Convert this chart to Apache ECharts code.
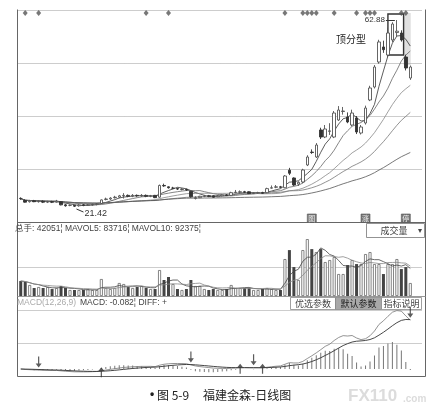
<!DOCTYPE html>
<html><head><meta charset="utf-8">
<script src="https://cdn.jsdelivr.net/npm/echarts@6/dist/echarts.min.js"></script>
<style>html,body{margin:0;padding:0;background:#fff}#c{width:436px;height:407px}</style>
</head><body><div id="c"></div>
<script>
// ---- data ----
const dayCount = 90; // category slots (88 trading days + 2 empty)
// [open, close, low, high]
const candles = [
[23.35,23.30,23.00,23.55],[22.90,22.50,22.40,23.10],[22.60,22.80,22.40,23.00],[22.80,22.60,22.50,23.00],
[22.60,22.70,22.40,22.90],[22.70,22.50,22.30,22.90],[22.50,22.60,22.30,22.80],[22.60,22.50,22.30,22.80],
[22.50,22.70,22.40,23.00],[22.60,21.90,21.80,22.70],[21.90,21.70,21.50,22.10],[21.80,21.80,21.60,22.00],
[21.80,21.60,21.42,21.90],[21.70,21.90,21.50,22.10],[21.90,21.80,21.60,22.10],[21.80,21.90,21.70,22.10],
[21.90,22.00,21.70,22.20],[22.00,22.10,21.80,22.30],[22.20,23.00,22.10,23.10],[23.10,23.20,22.90,23.50],
[23.20,23.40,23.00,23.60],[23.50,23.60,23.30,23.90],[23.60,23.90,23.40,24.10],[23.90,24.00,23.30,24.50],
[24.00,23.80,23.60,24.20],[23.80,24.00,23.60,24.30],[24.00,23.90,23.70,24.20],[23.90,24.00,23.70,24.30],
[24.00,23.80,23.60,24.20],[23.80,23.90,23.60,24.10],[24.00,23.50,23.40,24.10],[23.60,26.20,23.50,26.40],
[26.20,26.10,25.90,26.60],[25.90,25.70,25.50,26.00],[25.60,25.60,25.40,25.90],[25.50,25.40,25.20,25.70],
[25.30,25.40,25.10,25.60],[25.30,25.20,25.00,25.50],[24.90,23.70,23.50,25.00],[23.30,23.50,23.10,23.80],
[23.50,23.80,23.40,23.90],[23.80,23.90,23.60,24.10],[23.90,23.80,23.60,24.10],[23.90,23.60,23.50,24.00],
[23.70,23.90,23.60,24.10],[23.90,24.10,23.80,24.20],[24.10,24.00,23.90,24.30],[24.00,24.60,23.90,24.80],
[24.60,24.70,24.50,25.20],[24.70,24.80,24.50,25.10],[24.80,24.70,24.50,25.00],[24.80,24.40,24.30,24.90],
[24.40,24.50,24.30,24.70],[24.50,24.60,24.40,24.80],[24.60,24.50,24.40,24.80],[24.60,25.50,24.50,25.70],
[25.60,25.70,25.50,26.20],[25.80,25.90,25.60,26.30],[25.90,25.80,25.60,26.10],[25.70,28.30,25.60,28.50],
[29.60,28.90,28.50,30.10],[27.86,26.30,26.10,28.00],[26.50,26.90,26.10,27.10],[26.97,29.63,26.70,29.90],
[30.74,32.51,30.50,32.90],[33.60,33.50,33.20,34.20],[32.51,35.17,32.30,35.60],[38.50,36.94,36.50,39.00],
[36.94,38.72,36.70,39.60],[38.20,38.30,37.40,40.00],[36.94,42.26,36.70,42.70],[40.71,42.93,40.50,43.80],
[42.60,42.70,41.90,43.60],[41.38,40.27,40.00,42.40],[39.60,42.26,39.30,43.00],[41.16,38.05,37.60,41.60],
[37.83,39.16,37.50,39.60],[40.05,43.37,39.70,43.90],[45.15,47.81,44.90,48.30],[48.03,52.46,47.70,52.90],
[53.57,58.01,53.20,58.50],[56.90,56.30,55.60,58.30],[55.12,60.00,54.60,61.20],[58.45,61.99,58.00,62.40],
[60.10,60.40,59.30,62.88],[60.00,58.45,58.10,60.60],[54.68,52.24,51.70,55.20],[50.02,52.46,49.60,52.80]
];
const volumes = [
48500,45300,35600,25900,29100,25900,29100,22600,25900,32400,25900,19400,19400,19400,19400,22600,
19400,19400,55000,25900,22600,25900,42100,38800,29100,25900,29100,32400,25900,22600,22600,84100,
51800,61500,38800,22600,19400,22600,51800,32400,32400,22600,19400,22600,19400,19400,22600,35600,
25900,25900,25900,25900,19400,19400,22600,25900,22600,19400,19400,119700,148800,93800,51800,148800,
184400,152000,142300,152000,110000,116500,126200,71200,71200,100300,116500,103500,103500,135900,142300,103500,
103500,71200,103500,103500,119700,87300,93800,42051
];
const maPeriods = [5, 10, 20, 30, 60];
const volMaPeriods = [5, 10];
const signalDays = [1, 4, 28, 33, 59, 63, 64, 65, 66, 70, 75, 77, 78, 79, 85, 86];
const sellArrowDays = [4, 38, 52, 87];
const buyArrowDays = [18, 49, 54];
const highLabel = '62.88';
const lowLabel = '21.42';
const highDay = 84, lowDay = 12;
const patternDays = [83, 85];
const patternName = '顶分型';
const volHeader = '总手: 42051¦ MAVOL5: 83716¦ MAVOL10: 92375¦';
const macdHeaderA = 'MACD(12,26,9)';
const macdHeaderB = 'MACD: -0.082¦ DIFF: +';
const buttons = ['优选参数', '默认参数', '指标说明'];
const eventTags = [[65, '图'], [77, '涨'], [86, '停']];
const captionParts = ['•', '图 5-9', '福建金森-日线图'];

// ---- derived ----
const cats = Array.from({length: dayCount}, (_, i) => String(i + 1));
const closes = candles.map(c => c[1]);
function movAvg(arr, n) {
  return arr.map((_, i) => { const s = Math.max(0, i - n + 1); let t = 0; for (let k = s; k <= i; k++) t += arr[k]; return +(t / (i - s + 1)).toFixed(3); });
}
function ema(arr, n) { const a = 2 / (n + 1); const out = []; arr.forEach((v, i) => out.push(i ? out[i - 1] + a * (v - out[i - 1]) : v)); return out; }
const e12 = ema(closes, 12), e26 = ema(closes, 26);
const diff = e12.map((v, i) => v - e26[i]);
const dea = ema(diff, 9);
const hist = diff.map((v, i) => 2 * (v - dea[i]));
const dTop = Math.max(...diff, ...dea) * 1.01;
const dBot = -dTop * 7 / 59;

const chart = echarts.init(document.getElementById('c'), null, {renderer: 'canvas'});
const L = 18.5, W = 403;
const hidX = (gi) => ({type: 'category', gridIndex: gi, data: cats, boundaryGap: true, axisLine: {show: false}, axisTick: {show: false}, axisLabel: {show: false}, splitLine: {show: false}});
const dotted = {type: 'dotted', color: '#9a9a9a', width: 1};
const maColors = ['#333', '#666', '#888', '#777', '#555'];

const series = [];
series.push({type: 'candlestick', xAxisIndex: 0, yAxisIndex: 0, data: candles, barWidth: 3,
  itemStyle: {color: '#fff', color0: '#333', borderColor: '#555', borderColor0: '#333', borderWidth: 0.9}});
maPeriods.forEach((p, k) => series.push({type: 'line', name: 'MA' + p, xAxisIndex: 0, yAxisIndex: 0, data: movAvg(closes, p),
  showSymbol: false, symbol: 'none', lineStyle: {width: 0.8, color: maColors[k]}, z: 1}));
series.push({type: 'scatter', xAxisIndex: 0, yAxisIndex: 0, symbol: 'diamond', symbolSize: [5, 6],
  itemStyle: {color: '#555'}, data: signalDays.map(d => [d, 64.45])});
series.push({type: 'bar', xAxisIndex: 1, yAxisIndex: 1, barWidth: 3,
  data: volumes.map((v, i) => ({value: v, itemStyle: candles[i][1] >= candles[i][0] ? {color: '#fff', borderColor: '#666', borderWidth: 0.8} : {color: '#444'}}))});
volMaPeriods.forEach((p, k) => series.push({type: 'line', xAxisIndex: 1, yAxisIndex: 1, data: movAvg(volumes, p),
  showSymbol: false, symbol: 'none', lineStyle: {width: 0.8, color: k ? '#888' : '#444'}, z: 3}));
series.push({type: 'bar', xAxisIndex: 2, yAxisIndex: 2, barWidth: 1, data: hist.map(v => +v.toFixed(4)), itemStyle: {color: '#777'}});
series.push({type: 'line', xAxisIndex: 2, yAxisIndex: 2, data: diff.map(v => +v.toFixed(4)), showSymbol: false, symbol: 'none', lineStyle: {width: 0.8, color: '#777'}});
series.push({type: 'line', xAxisIndex: 2, yAxisIndex: 2, data: dea.map(v => +v.toFixed(4)), showSymbol: false, symbol: 'none', lineStyle: {width: 0.9, color: '#333'}});
series.push({type: 'scatter', xAxisIndex: 2, yAxisIndex: 2, symbol: 'path://M4,0 L6,0 L6,10 L10,10 L5,16 L0,10 L4,10 Z', symbolSize: [6, 11], symbolOffset: [0, -8],
  itemStyle: {color: '#333'}, data: sellArrowDays.map(d => [d, diff[d]]), z: 5});
series.push({type: 'scatter', xAxisIndex: 2, yAxisIndex: 2, symbol: 'path://M5,0 L10,6 L6,6 L6,16 L4,16 L4,6 L0,6 Z', symbolSize: [6, 10], symbolOffset: [0, 1],
  itemStyle: {color: '#333'}, data: buyArrowDays.map(d => [d, dea[d]]), z: 5});

chart.setOption({
  animation: false,
  backgroundColor: '#fff',
  grid: [
    {left: L, width: W, top: 10, height: 212},
    {left: L, width: W, top: 238, height: 58},
    {left: L, width: W, top: 310, height: 66}
  ],
  xAxis: [hidX(0), hidX(1), hidX(2)],
  yAxis: [
    {gridIndex: 0, min: 18.1, max: 65.1, interval: 11.75, scale: true, axisLine: {show: false}, axisTick: {show: false}, axisLabel: {show: false}, splitLine: {show: true, lineStyle: dotted}},
    {gridIndex: 1, min: 0, max: 188000, interval: 94000, axisLine: {show: false}, axisTick: {show: false}, axisLabel: {show: false}, splitLine: {show: true, showMinLine: false, showMaxLine: false, lineStyle: dotted}},
    {gridIndex: 2, min: dBot, max: dTop, interval: (dTop - dBot) / 2, axisLine: {show: false}, axisTick: {show: false}, axisLabel: {show: false}, splitLine: {show: true, showMinLine: false, lineStyle: dotted}}
  ],
  series: series
});

// ---- annotations positioned through the chart's own scales ----
const px = (g, d, v) => chart.convertToPixel({gridIndex: g}, [d, v]);
const hi = px(0, highDay, candles[highDay][3]);
const lo = px(0, lowDay, candles[lowDay][2]);
const pStart = px(0, patternDays[0], candles[highDay][3]);
const pEnd = px(0, patternDays[1], candles[highDay][3]);
const band = W / dayCount;
const g = [];
const line = (x1, y1, x2, y2, stroke, lw, extra) => g.push({type: 'line', shape: {x1, y1, x2, y2}, style: Object.assign({stroke, lineWidth: lw || 1}, extra || {}), silent: true});
const text = (x, y, t, font, fill, align, vAlign) => g.push({type: 'text', x, y, style: {text: t, font, fill, align: align || 'left', verticalAlign: vAlign || 'middle'}, silent: true});
// frame
line(17.5, 9.5, 17.5, 376.5, '#666');
line(425.5, 9.5, 425.5, 376.5, '#666');
line(17.5, 376.5, 425.5, 376.5, '#666');
line(17.5, 222.5, 425.5, 222.5, '#666');
line(17.5, 296.5, 425.5, 296.5, '#999');
// top pattern box + shading
const boxL = pStart[0] - band * 1.0, boxR = pEnd[0] + band * 0.5;
g.push({type: 'rect', shape: {x: boxR, y: pStart[1] - 7, width: band * 1.6, height: 52}, style: {fill: 'rgba(0,0,0,0.12)'}, silent: true, z: -1});
g.push({type: 'rect', shape: {x: boxL, y: pStart[1] - 6, width: boxR - boxL, height: 41}, style: {fill: 'none', stroke: '#333', lineWidth: 1.4}, silent: true});
text(boxL - 52, 39, patternName, '10px "Noto Sans CJK SC"', '#222', 'left');
// high label
text(hi[0] - 12, hi[1], highLabel, '8px Arial', '#333', 'right');
line(hi[0] - 11, hi[1] + 0.5, hi[0] - 2, hi[1] + 0.5, '#333');
// low label
line(lo[0] + 2, lo[1] + 2, lo[0] + 9, lo[1] + 5, '#333');
text(lo[0] + 10, lo[1] + 6, lowLabel, '9px Arial', '#333', 'left');
// event tags
eventTags.forEach(([d, ch]) => {
  const p = px(0, d, 18.1);
  g.push({type: 'rect', shape: {x: p[0] - 4.5, y: 214, width: 9, height: 8}, style: {fill: '#777', stroke: '#555', lineWidth: 0.6}, silent: true});
  text(p[0], 218.3, ch, '7px "Noto Sans CJK SC"', '#eee', 'center');
});
// volume header
text(15, 229, volHeader, '8.5px Arial, "Noto Sans CJK SC"', '#444', 'left');
g.push({type: 'rect', shape: {x: 366.5, y: 223.5, width: 58, height: 14}, style: {fill: '#fff', stroke: '#777', lineWidth: 0.8}, silent: true});
text(394, 231, '成交量', '9px "Noto Sans CJK SC"', '#444', 'center');
text(420, 230.5, '▾', '8px Arial', '#444', 'center');
// macd header
text(17, 303, macdHeaderA, '8.5px Arial', '#aaa', 'left');
text(80, 303, macdHeaderB, '8.5px Arial, "Noto Sans CJK SC"', '#444', 'left');
const bx = [[290.5, 45], [335.5, 46], [381.5, 40]];
buttons.forEach((t, k) => {
  g.push({type: 'rect', shape: {x: bx[k][0], y: 297.5, width: bx[k][1], height: 12}, style: {fill: k === 1 ? '#a8a8a8' : '#fff', stroke: '#888', lineWidth: 0.8}, silent: true});
  text(bx[k][0] + bx[k][1] / 2, 303.8, t, '9px "Noto Sans CJK SC"', k === 1 ? '#222' : '#444', 'center');
});
// caption and watermark
text(150, 395, captionParts[0], 'bold 12px Arial', '#222', 'left');
text(157, 395, captionParts[1], '12px "Noto Sans CJK SC"', '#222', 'left');
text(203, 395, captionParts[2], '12px "Noto Sans CJK SC"', '#222', 'left');
text(348, 396, 'FX110', 'bold 17px Arial', '#dcdcdc', 'left');
text(403, 399, '.com', 'bold 10px Arial', '#dcdcdc', 'left');
chart.setOption({graphic: g});
</script></body></html>
